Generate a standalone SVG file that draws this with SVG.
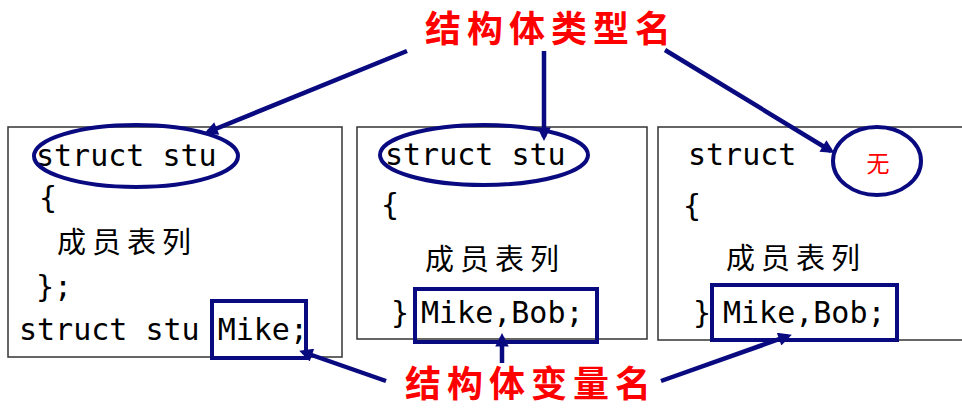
<svg xmlns="http://www.w3.org/2000/svg" width="962" height="408" viewBox="0 0 962 408">
<style>
.box{fill:#fff;stroke:#333;stroke-width:1.5}
.code{font-family:"DejaVu Sans Mono","Liberation Mono",monospace;font-size:30px;fill:#000}
.cjk{font-family:"Noto Sans CJK SC",sans-serif;font-size:29px;fill:#000;letter-spacing:6px}
.hl{fill:none;stroke:#0a0a80;stroke-width:4}
.title{font-family:"Noto Sans CJK SC",sans-serif;font-size:36px;font-weight:700;fill:#ff0000;letter-spacing:6px}
.arr{fill:none;stroke:#0a0a80;stroke-width:4.5;marker-end:url(#ah)}
</style>
<defs>
<marker id="ah" viewBox="0 0 10 10" refX="7" refY="5" markerWidth="3.4" markerHeight="3" orient="auto" markerUnits="strokeWidth">
<path d="M0,0 L10,5 L0,10 Z" fill="#0a0a80"/>
</marker>
</defs>
<rect width="962" height="408" fill="#fff"/>
<g id="title-type"><text class="title" x="425" y="42">结构体类型名</text></g>
<g id="title-var"><text class="title" x="405" y="397">结构体变量名</text></g>
<g id="box1">
<rect class="box" x="8" y="127" width="334" height="230"/>
<text class="code" x="36" y="166">struct stu</text>
<text class="code" x="39" y="208">{</text>
<text class="cjk" x="57" y="253">成员表列</text>
<text class="code" x="36" y="297">};</text>
<text class="code" x="19" y="340">struct stu Mike;</text>
<ellipse class="hl" cx="136" cy="156" rx="102" ry="31"/>
<rect class="hl" x="212" y="301" width="94" height="57"/>
</g>
<g id="box2">
<rect class="box" x="357" y="127" width="290" height="212"/>
<text class="code" x="385" y="165">struct stu</text>
<text class="code" x="381" y="215">{</text>
<text class="cjk" x="425" y="270">成员表列</text>
<text class="code" x="391" y="323">}</text>
<text class="code" x="421" y="323">Mike,Bob;</text>
<ellipse class="hl" cx="484" cy="155" rx="104" ry="30"/>
<rect class="hl" x="415" y="289" width="182" height="53"/>
</g>
<g id="box3">
<rect class="box" x="658" y="127" width="320" height="213"/>
<text class="code" x="688" y="165">struct</text>
<text class="code" x="683" y="216">{</text>
<text class="cjk" x="726" y="269">成员表列</text>
<text class="code" x="693" y="323">}</text>
<text class="code" x="723" y="323">Mike,Bob;</text>
<ellipse class="hl" cx="877" cy="161" rx="44" ry="34"/>
<text x="878" y="172" text-anchor="middle" font-family="Noto Sans CJK SC,sans-serif" font-size="23" fill="#ff0000">无</text>
<rect class="hl" x="712" y="285" width="185" height="55"/>
</g>
<g id="connectors">
<line class="arr" x1="407" y1="51" x2="208" y2="132"/>
<line class="arr" x1="544" y1="51" x2="544" y2="137"/>
<line class="arr" x1="665" y1="50" x2="831" y2="151"/>
<line class="arr" x1="386" y1="381" x2="303" y2="352"/>
<line class="arr" x1="502" y1="363" x2="502" y2="337"/>
<line class="arr" x1="661" y1="381" x2="788" y2="336"/>
</g>
</svg>
